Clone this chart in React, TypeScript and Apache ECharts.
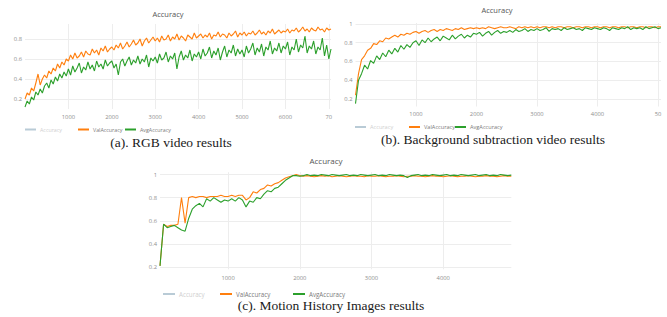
import React, { useEffect, useRef } from "react";
import * as echarts from "echarts";

// ---------- data ----------
const seriesNames = ["Accuracy", "ValAccuracy", "AvgAccuracy"];

// (a) RGB video results, sampled every 50 steps from 0
const stepA = 50;
const xTicksA = [1000, 2000, 3000, 4000, 5000, 6000, 7000];
const xLabelsA = ["1000", "2000", "3000", "4000", "5000", "6000", "70"];
const yTicksA = [0.2, 0.4, 0.6, 0.8];
const valA = [
  0.20, 0.26, 0.24, 0.31, 0.28, 0.36, 0.45, 0.34, 0.40, 0.44,
  0.41, 0.48, 0.45, 0.51, 0.48, 0.55, 0.51, 0.57, 0.54, 0.60,
  0.58, 0.64, 0.60, 0.66, 0.61, 0.63, 0.67, 0.62, 0.68, 0.65,
  0.64, 0.70, 0.66, 0.69, 0.64, 0.71, 0.68, 0.73, 0.67, 0.70,
  0.72, 0.69, 0.74, 0.71, 0.76, 0.70, 0.73, 0.77, 0.72, 0.75,
  0.79, 0.74, 0.76, 0.80, 0.73, 0.78, 0.81, 0.76, 0.79, 0.82,
  0.78, 0.81, 0.77, 0.83, 0.79, 0.80, 0.84, 0.78, 0.82, 0.80,
  0.85, 0.79, 0.83, 0.81, 0.78, 0.84, 0.82, 0.80, 0.86, 0.81,
  0.83, 0.85, 0.81, 0.84, 0.82, 0.86, 0.80, 0.84, 0.83, 0.87,
  0.82, 0.85, 0.84, 0.81, 0.86, 0.83, 0.85, 0.88, 0.82, 0.86,
  0.84, 0.87, 0.83, 0.86, 0.85, 0.88, 0.84, 0.86, 0.89, 0.85,
  0.87, 0.84, 0.88, 0.86, 0.90, 0.85, 0.87, 0.89, 0.86, 0.88,
  0.87, 0.90, 0.86, 0.89, 0.88, 0.91, 0.87, 0.89, 0.92, 0.88,
  0.90, 0.87, 0.91, 0.89, 0.88, 0.92, 0.89, 0.90, 0.87, 0.91,
  0.89, 0.90,
];
const avgA = [
  0.12, 0.18, 0.15, 0.22, 0.19, 0.27, 0.24, 0.30, 0.26, 0.33,
  0.36, 0.31, 0.39, 0.35, 0.42, 0.38, 0.45, 0.41, 0.47, 0.43,
  0.50, 0.44, 0.53, 0.47, 0.51, 0.56, 0.46, 0.52, 0.49, 0.57,
  0.50, 0.54, 0.48, 0.58, 0.52, 0.55, 0.50, 0.59, 0.53, 0.56,
  0.58, 0.51, 0.55, 0.44, 0.57, 0.60, 0.53, 0.58, 0.62, 0.54,
  0.59, 0.56, 0.63, 0.55, 0.60, 0.57, 0.64, 0.52, 0.61, 0.58,
  0.62, 0.56, 0.65, 0.59, 0.61, 0.67, 0.57, 0.63, 0.60, 0.66,
  0.50, 0.62, 0.68, 0.59, 0.64, 0.61, 0.69, 0.58, 0.65, 0.62,
  0.67, 0.60, 0.70, 0.63, 0.66, 0.72, 0.61, 0.68, 0.64, 0.71,
  0.59, 0.67, 0.73, 0.62, 0.69, 0.66, 0.74, 0.63, 0.70, 0.65,
  0.69, 0.62, 0.73, 0.66, 0.70, 0.76, 0.64, 0.71, 0.67, 0.75,
  0.63, 0.72, 0.69, 0.78, 0.65, 0.71, 0.68, 0.76, 0.66, 0.73,
  0.70, 0.77, 0.64, 0.72, 0.69, 0.80, 0.67, 0.74, 0.71, 0.83,
  0.66, 0.73, 0.70, 0.78, 0.65, 0.72, 0.69, 0.81, 0.63, 0.74,
  0.60, 0.70,
];

// (b) Background subtraction video results, sampled every 50 steps from 0
const stepB = 50;
const xTicksB = [1000, 2000, 3000, 4000, 5000];
const xLabelsB = ["1000", "2000", "3000", "4000", "50"];
const yTicksB = [0.2, 0.4, 0.6, 0.8, 1];
const valB = [
  0.24, 0.47, 0.62, 0.66, 0.72, 0.74, 0.79, 0.78, 0.82, 0.81,
  0.85, 0.84, 0.86, 0.88, 0.86, 0.89, 0.88, 0.90, 0.89, 0.91,
  0.92, 0.90, 0.92, 0.93, 0.91, 0.93, 0.94, 0.92, 0.94, 0.93,
  0.95, 0.94, 0.93, 0.95, 0.94, 0.96, 0.94, 0.95, 0.96, 0.95,
  0.96, 0.95, 0.96, 0.95, 0.97, 0.96, 0.95, 0.96, 0.97, 0.96,
  0.96, 0.97, 0.96, 0.95, 0.97, 0.96, 0.97, 0.96, 0.97, 0.96,
  0.97, 0.96, 0.97, 0.97, 0.96, 0.97, 0.96, 0.97, 0.97, 0.96,
  0.97, 0.97, 0.96, 0.97, 0.97, 0.96, 0.97, 0.97, 0.96, 0.97,
  0.97, 0.96, 0.97, 0.97, 0.96, 0.97, 0.97, 0.96, 0.97, 0.97,
  0.96, 0.97, 0.97, 0.96, 0.97, 0.97, 0.96, 0.97, 0.97, 0.96,
  0.97, 0.97,
];
const avgB = [
  0.15, 0.40, 0.47, 0.56, 0.52, 0.61, 0.58, 0.66, 0.62, 0.69,
  0.65, 0.72, 0.68, 0.74, 0.70, 0.77, 0.73, 0.78, 0.75, 0.80,
  0.82, 0.77, 0.83, 0.80, 0.85, 0.81, 0.84, 0.86, 0.82, 0.87,
  0.85, 0.83, 0.88, 0.84, 0.87, 0.89, 0.85, 0.88, 0.86, 0.90,
  0.89, 0.91, 0.87, 0.90, 0.92, 0.88, 0.91, 0.93, 0.90, 0.92,
  0.91, 0.93, 0.91, 0.94, 0.92, 0.93, 0.95, 0.92, 0.94, 0.93,
  0.95, 0.93, 0.94, 0.96, 0.92, 0.95, 0.94, 0.95, 0.93, 0.96,
  0.94, 0.95, 0.96, 0.94, 0.95, 0.93, 0.96, 0.95, 0.94, 0.96,
  0.95, 0.94, 0.96, 0.95, 0.93, 0.96, 0.95, 0.94, 0.96, 0.95,
  0.97, 0.94, 0.96, 0.95, 0.96, 0.94, 0.97, 0.95, 0.96, 0.97,
  0.95, 0.96,
];

// (c) Motion History Images results, sampled every 50 steps from 50
const stepC = 50;
const xTicksC = [1000, 2000, 3000, 4000];
const xLabelsC = ["1000", "2000", "3000", "4000"];
const yTicksC = [0.2, 0.4, 0.6, 0.8, 1];
const valC = [
  0.21, 0.57, 0.55, 0.56, 0.56, 0.57, 0.80, 0.58, 0.80, 0.81,
  0.80, 0.81, 0.81, 0.80, 0.81, 0.81, 0.81, 0.82, 0.81, 0.81,
  0.82, 0.81, 0.82, 0.82, 0.78, 0.80, 0.85, 0.84, 0.87, 0.88,
  0.91, 0.90, 0.92, 0.93, 0.95, 0.97, 0.98, 0.99, 1.00, 0.99,
  0.985, 0.99, 0.985, 0.98, 0.985, 0.99, 0.985, 0.99, 0.98, 0.985,
  0.99, 0.985, 0.98, 0.985, 0.99, 0.985, 0.985, 0.98, 0.99, 0.985,
  0.985, 0.99, 0.985, 0.98, 0.985, 0.985, 0.99, 0.985, 0.98, 0.985,
  0.985, 0.99, 0.985, 0.985, 0.98, 0.985, 0.99, 0.985, 0.985, 0.98,
  0.985, 0.99, 0.985, 0.98, 0.985, 0.985, 0.99, 0.985, 0.98, 0.985,
  0.985, 0.99, 0.985, 0.985, 0.98, 0.985, 0.99, 0.985, 0.985,
];
const avgC = [
  0.21, 0.57, 0.54, 0.55, 0.56, 0.54, 0.52, 0.51, 0.62, 0.70,
  0.73, 0.75, 0.72, 0.79, 0.77, 0.80, 0.78, 0.76, 0.78, 0.77,
  0.79, 0.77, 0.80, 0.78, 0.72, 0.77, 0.76, 0.80, 0.79, 0.83,
  0.86, 0.85, 0.88, 0.89, 0.92, 0.95, 0.97, 0.99, 0.99, 0.985,
  0.99, 1.0, 0.99, 0.995, 0.99, 1.0, 0.995, 0.99, 1.0, 0.995,
  0.99, 0.995, 1.0, 0.99, 0.995, 0.99, 1.0, 0.995, 0.99, 0.995,
  1.0, 0.99, 0.995, 0.99, 1.0, 0.995, 0.99, 0.995, 0.99, 0.975,
  0.99, 0.995, 1.0, 0.99, 0.995, 0.99, 1.0, 0.995, 0.99, 0.995,
  1.0, 0.99, 0.995, 0.99, 1.0, 0.995, 0.99, 0.995, 1.0, 0.99,
  0.995, 1.0, 0.99, 0.995, 0.99, 1.0, 0.995, 0.99, 0.995,
];

// ---------- option builder ----------
type Cfg = {
  val: number[];
  avg: number[];
  step: number;
  x0: number;
  xMin: number;
  xMax: number;
  yMin: number;
  yMax: number;
  xTicks: number[];
  xLabels: string[];
  yTicks: number[];
  grid: { left: number; right: number; top: number; bottom: number };
  xLabelMargin: number;
  yLabelMargin: number;
  tickFont: number;
  legendX: number[];
  legendY: number;
  legendFont: number;
  legendIconW: number;
  title: { x: number; y: number; size: number };
  caption: { x: number; y: number; text: string };
};

const TXT = "#8e8e8e";

function buildOption(c: Cfg) {
  const labelBase = { color: TXT, fontSize: c.tickFont, fontFamily: "Open Sans" };
  const gridLine = { show: true, lineStyle: { color: "#ededed", width: 1 } };
  const toPts = (arr: number[]) => arr.map((v, i) => [c.x0 + i * c.step, v]);
  const xLabelOf = (v: number) => {
    const k = c.xTicks.indexOf(v);
    return k >= 0 ? c.xLabels[k] : String(v);
  };
  return {
    animation: false,
    grid: { ...c.grid, containLabel: false, outerBoundsMode: "none" },
    xAxis: {
      type: "value",
      min: c.xMin,
      max: c.xMax,
      axisLine: { show: false },
      axisTick: { show: false, customValues: c.xTicks },
      axisLabel: { ...labelBase, customValues: c.xTicks, margin: c.xLabelMargin, formatter: xLabelOf },
      splitLine: gridLine,
    },
    yAxis: {
      type: "value",
      min: c.yMin,
      max: c.yMax,
      axisLine: { show: false },
      axisTick: { show: false, customValues: c.yTicks },
      axisLabel: { ...labelBase, customValues: c.yTicks, margin: c.yLabelMargin, formatter: (v: number) => String(v) },
      splitLine: gridLine,
    },
    legend: seriesNames.map((n, k) => ({
      data: [{ name: n, textStyle: { color: k === 0 ? "#cfcfcf" : "#7a7a7a" } }],
      left: c.legendX[k],
      top: c.legendY - 1,
      padding: 0,
      icon: "rect",
      itemWidth: c.legendIconW,
      itemHeight: 2,
      itemGap: 0,
      selectedMode: false,
      textStyle: { fontSize: c.legendFont, fontFamily: "Open Sans", padding: [0, 0, 0, -1] },
    })),
    graphic: [
      {
        type: "text",
        x: c.title.x,
        y: c.title.y,
        style: {
          text: "Accuracy",
          fill: "#555",
          font: `${c.title.size}px "Open Sans"`,
          align: "center",
          verticalAlign: "middle",
          textAlign: "center",
          textVerticalAlign: "middle",
        },
      },
      {
        type: "text",
        x: c.caption.x,
        y: c.caption.y,
        style: {
          text: c.caption.text,
          fill: "#1a1a1a",
          font: '13.5px "Liberation Serif"',
          align: "center",
          verticalAlign: "middle",
          textAlign: "center",
          textVerticalAlign: "middle",
        },
      },
    ],
    series: [
      { name: seriesNames[0], type: "line", data: [], color: "#b9cbd6", symbol: "none" },
      {
        name: seriesNames[1],
        type: "line",
        data: toPts(c.val),
        color: "#ff7f0e",
        symbol: "none",
        lineStyle: { width: 1.1 },
      },
      {
        name: seriesNames[2],
        type: "line",
        data: toPts(c.avg),
        color: "#2ca02c",
        symbol: "none",
        lineStyle: { width: 1.1 },
      },
    ],
  };
}

const optA = buildOption({
  val: valA, avg: avgA, step: stepA, x0: 0,
  xMin: 0, xMax: 7050, yMin: 0.1, yMax: 0.95,
  xTicks: xTicksA, xLabels: xLabelsA, yTicks: yTicksA,
  grid: { left: 25, right: 4, top: 24, bottom: 41 },
  xLabelMargin: 5, yLabelMargin: 3, tickFont: 5.8,
  legendX: [25, 78, 125], legendY: 128, legendFont: 5.3, legendIconW: 11,
  title: { x: 168, y: 14, size: 7.5 },
  caption: { x: 171, y: 142, text: "(a). RGB video results" },
});

const optB = buildOption({
  val: valB, avg: avgB, step: stepB, x0: 0,
  xMin: 0, xMax: 5050, yMin: 0.12, yMax: 1.01,
  xTicks: xTicksB, xLabels: xLabelsB, yTicks: yTicksB,
  grid: { left: 23.5, right: 6, top: 23, bottom: 43.5 },
  xLabelMargin: 4, yLabelMargin: 3, tickFont: 5.8,
  legendX: [23, 77, 123], legendY: 125, legendFont: 5.6, legendIconW: 11,
  title: { x: 165, y: 10, size: 7.5 },
  caption: { x: 161, y: 139, text: "(b). Background subtraction video results" },
});

const optC = buildOption({
  val: valC, avg: avgC, step: stepC, x0: 50,
  xMin: 50, xMax: 4950, yMin: 0.18, yMax: 1.02,
  xTicks: xTicksC, xLabels: xLabelsC, yTicks: yTicksC,
  grid: { left: 160, right: 155.7, top: 22.2, bottom: 47.7 },
  xLabelMargin: 5.5, yLabelMargin: 3, tickFont: 5.8,
  legendX: [163, 220, 293], legendY: 142, legendFont: 6.2, legendIconW: 12,
  title: { x: 326, y: 10, size: 8 },
  caption: { x: 331, y: 155, text: "(c). Motion History Images results" },
});

function ChartBox({ option, box }: { option: any; box: React.CSSProperties }) {
  const ref = useRef<HTMLDivElement>(null);
  useEffect(() => {
    if (!ref.current) return;
    const chart = echarts.init(ref.current, undefined, { renderer: "svg" });
    chart.setOption(option);
    return () => chart.dispose();
  }, [option]);
  return <div ref={ref} style={{ position: "absolute", overflow: "hidden", ...box }} />;
}

export default function App() {
  return (
    <div style={{ position: "absolute", left: 0, top: 0, width: 667, height: 317, background: "#fff", overflow: "hidden" }}>
      <ChartBox option={optA} box={{ left: 0, top: 0, width: 335, height: 150 }} />
      <ChartBox option={optB} box={{ left: 332, top: 0, width: 335, height: 150 }} />
      <ChartBox option={optC} box={{ left: 0, top: 150, width: 667, height: 167 }} />
    </div>
  );
}
